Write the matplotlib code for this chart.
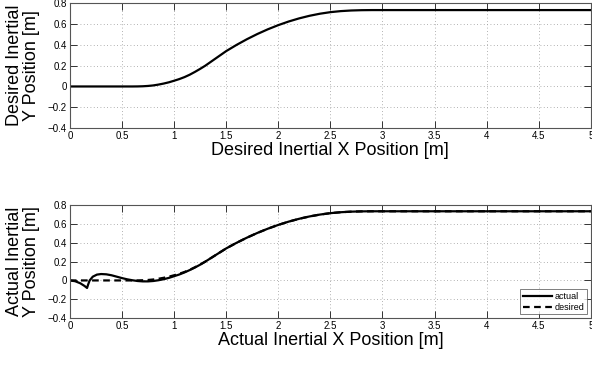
import numpy as np
import matplotlib
matplotlib.use("Agg")
import matplotlib.pyplot as plt

plt.rcParams['font.family'] = ['Liberation Sans', 'DejaVu Sans']

# ── Data ────────────────────────────────────────────────────────────────
x_desired = [0.0, 0.6, 0.65, 0.7, 0.75, 0.8, 0.85, 0.9, 0.95, 1.0, 1.05, 1.1,
             1.15, 1.2, 1.25, 1.3, 1.35, 1.4, 1.45, 1.5, 1.6, 1.7, 1.8, 1.9,
             2.0, 2.1, 2.2, 2.3, 2.4, 2.5, 2.6, 2.7, 2.8, 2.9, 5.0]
y_desired = [0.0, 0.0, 0.0005, 0.002, 0.005, 0.01, 0.018, 0.028, 0.04, 0.055,
             0.071, 0.09, 0.113, 0.14, 0.169, 0.2, 0.235, 0.27, 0.305, 0.34,
             0.40, 0.455, 0.505, 0.55, 0.59, 0.625, 0.655, 0.68, 0.70,
             0.715, 0.725, 0.731, 0.734, 0.735, 0.735]

x_actual = [0.0, 0.05, 0.1, 0.14, 0.165, 0.175, 0.19, 0.22, 0.26, 0.3, 0.35,
            0.4, 0.45, 0.5, 0.55, 0.6, 0.65, 0.7, 0.75, 0.8, 0.85, 0.9, 0.95,
            1.0, 1.05, 1.1, 1.15, 1.2, 1.25, 1.3, 1.35, 1.4, 1.45, 1.5, 1.6,
            1.7, 1.8, 1.9, 2.0, 2.1, 2.2, 2.3, 2.4, 2.5, 2.6, 2.7, 2.8, 2.9,
            5.0]
y_actual = [0.0, -0.008, -0.03, -0.058, -0.08, -0.045, 0.0, 0.04, 0.062,
            0.068, 0.065, 0.055, 0.04, 0.025, 0.012, 0.002, -0.006, -0.01,
            -0.01, -0.006, 0.002, 0.013, 0.027, 0.045, 0.063, 0.085, 0.11,
            0.137, 0.167, 0.2, 0.235, 0.27, 0.305, 0.34, 0.40, 0.455, 0.505,
            0.55, 0.59, 0.625, 0.655, 0.68, 0.70, 0.715, 0.725, 0.731, 0.734,
            0.735, 0.735]

x_ticks = [0, 0.5, 1, 1.5, 2, 2.5, 3, 3.5, 4, 4.5, 5]
x_ticklabels = ['0', '0.5', '1', '1.5', '2', '2.5', '3', '3.5', '4', '4.5', '5']
y_ticks = [-0.4, -0.2, 0, 0.2, 0.4, 0.6, 0.8]
y_ticklabels = ['\u22120.4', '\u22120.2', '0', '0.2', '0.4', '0.6', '0.8']


def style_axes(ax, xlabel, ylabel):
    ax.set_xlim(0, 5)
    ax.set_ylim(-0.4, 0.8)
    ax.set_xticks(x_ticks)
    ax.set_xticklabels(x_ticklabels)
    ax.set_yticks(y_ticks)
    ax.set_yticklabels(y_ticklabels)
    ax.tick_params(direction='in', top=True, right=True, labelsize=7,
                   length=5, width=0.7, color='#333333', pad=2)
    ax.grid(True, linestyle=(0, (1, 3)), color='#999999', linewidth=0.6)
    for sp in ax.spines.values():
        sp.set_color('#555555')
        sp.set_linewidth(0.8)
    ax.set_xlabel(xlabel, fontsize=13, labelpad=1)
    ax.set_ylabel(ylabel, fontsize=13, labelpad=6, linespacing=0.95)


fig = plt.figure(figsize=(5.92, 3.69), dpi=100)
ax1 = fig.add_axes([0.118, 0.653, 0.88, 0.338])
ax2 = fig.add_axes([0.118, 0.138, 0.88, 0.306])

ax1.plot(x_desired, y_desired, color='black', linewidth=1.6)
style_axes(ax1, 'Desired Inertial X Position [m]', 'Desired Inertial\nY Position [m]')

ax2.plot(x_actual, y_actual, color='black', linewidth=1.6, label='actual')
ax2.plot(x_desired, y_desired, color='black', linewidth=1.6, linestyle='--',
         dashes=(3, 2), label='desired')
style_axes(ax2, 'Actual Inertial X Position [m]', 'Actual Inertial\nY Position [m]')
leg = ax2.legend(loc='lower right', fontsize=6.5, frameon=True, fancybox=False,
                 handlelength=3.2, handletextpad=0.3, borderpad=0.3,
                 labelspacing=0.2, borderaxespad=0.4)
leg.get_frame().set_edgecolor('#444444')
leg.get_frame().set_linewidth(0.6)

fig.savefig('out.png', dpi=100)
